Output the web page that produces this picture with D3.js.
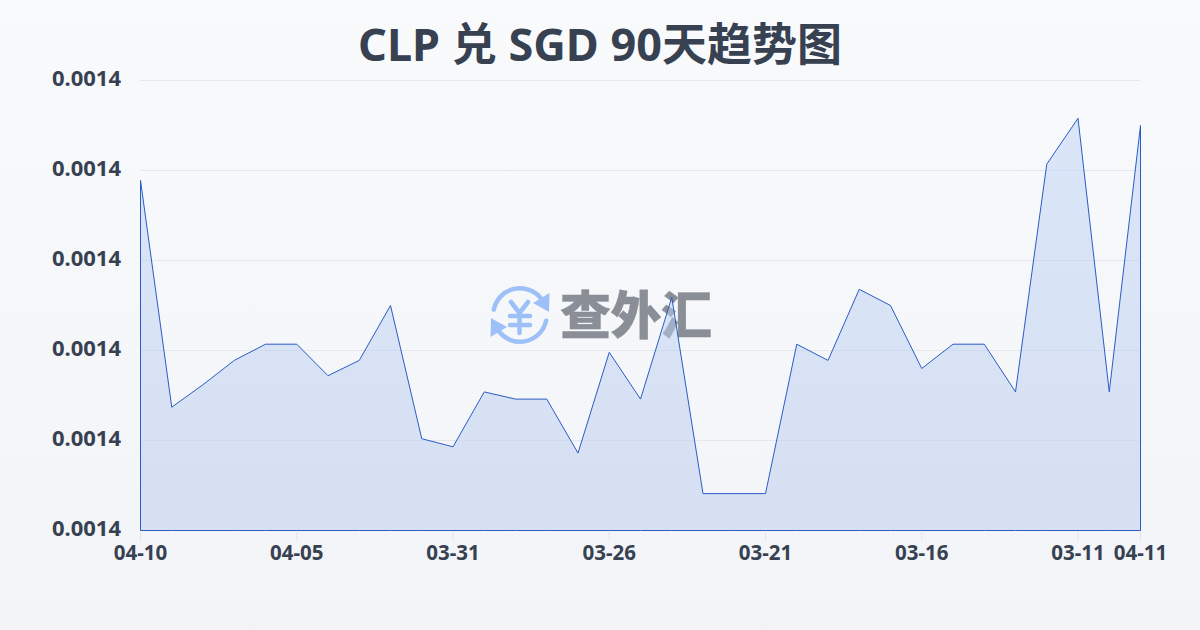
<!DOCTYPE html>
<html><head><meta charset="utf-8">
<script src="https://cdn.jsdelivr.net/npm/d3@7/dist/d3.min.js"></script>
<style>html,body{margin:0;padding:0;width:1200px;height:630px;overflow:hidden}svg{display:block}text{font-family:"Noto Sans","Noto Sans CJK SC",sans-serif}</style>
</head><body><svg id="c" width="1200" height="630"></svg>
<script>
const titleText = "CLP 兑 SGD 90天趋势图";
const dates = ["04-10","04-09","04-08","04-07","04-06","04-05","04-04","04-03","04-02","04-01","03-31","03-30","03-29","03-28","03-27","03-26","03-25","03-24","03-23","03-22","03-21","03-20","03-19","03-18","03-17","03-16","03-15","03-14","03-13","03-12","03-11","03-10","04-11"];
const rates = [0.0014189,0.0013937,0.0013962,0.0013989,0.0014007,0.0014007,0.0013972,0.0013989,0.0014050,0.0013902,0.0013893,0.0013954,0.0013946,0.0013946,0.0013886,0.0013998,0.0013946,0.0014059,0.0013841,0.0013841,0.0013841,0.0014007,0.0013989,0.0014068,0.0014050,0.0013980,0.0014007,0.0014007,0.0013954,0.0014207,0.0014258,0.0013954,0.0014250];
const shownDates = [0,5,10,15,20,25,30,32];
const yTicks = [0.00138,0.00139,0.00140,0.00141,0.00142,0.00143];
const brand = "查外汇";

const svg = d3.select("#c");
const defs = svg.append("defs");
const bg = defs.append("linearGradient").attr("id","bg").attr("x1",0).attr("y1",0).attr("x2",0).attr("y2",1);
bg.append("stop").attr("offset",0).attr("stop-color","#f8fafc");
bg.append("stop").attr("offset",1).attr("stop-color","#f2f4f7");
const ag = defs.append("linearGradient").attr("id","ag").attr("x1",0).attr("y1",0).attr("x2",0).attr("y2",1);
ag.append("stop").attr("offset",0).attr("stop-color","#bcd2f5").attr("stop-opacity",0.5);
ag.append("stop").attr("offset",1).attr("stop-color","#bccbee").attr("stop-opacity",0.5);
svg.append("rect").attr("width",1200).attr("height",630).attr("fill","url(#bg)");

const x = d3.scaleLinear().domain([0,dates.length-1]).range([140.5,1140.5]);
const y = d3.scaleLinear().domain([0.00138,0.00143]).range([530.5,80.5]);

svg.append("text").attr("x",600).attr("y",61).attr("text-anchor","middle").attr("font-size",45).attr("font-weight",700).attr("fill","#374151").text(titleText);

// grid
svg.append("g").selectAll("line").data(yTicks).join("line")
  .attr("x1",140).attr("x2",1141).attr("y1",d=>y(d)).attr("y2",d=>y(d)).attr("stroke","#e5e7eb").attr("stroke-width",1);

// watermark logo
const logo = svg.append("g");
const arc = d3.arc().innerRadius(24.5).outerRadius(29).cornerRadius(2);
logo.append("path").attr("transform","translate(520,315)").attr("fill","#9dc0f8").attr("d",arc({startAngle:-1.45,endAngle:1.0}));
logo.append("path").attr("transform","translate(520,315)").attr("fill","#9dc0f8").attr("d",arc({startAngle:1.7,endAngle:4.15}));
logo.append("path").attr("fill","#9dc0f8").attr("d","M549.5 293L549 312L533 303Z");
logo.append("path").attr("fill","#9dc0f8").attr("d","M490.5 337L491 318L507 327Z");
logo.append("path").attr("fill","none").attr("stroke","#9dc0f8").attr("stroke-width",4.5).attr("stroke-linecap","round").attr("stroke-linejoin","round")
  .attr("d","M511 302L519.5 313L528 302M510 316H530M510 325H530M519.5 313V333");
logo.append("text").attr("x",560).attr("y",334).attr("font-family","'Noto Sans CJK SC'").attr("font-size",51).attr("font-weight",900).attr("fill","#8a8e96").attr("stroke","#8a8e96").attr("stroke-width",0.4).attr("textLength",152).text(brand);

// area and line
const area = d3.area().x((d,i)=>x(i)).y0(530.5).y1(d=>y(d));
svg.append("path").attr("d",area(rates)).attr("fill","url(#ag)");
svg.append("path").attr("d",area(rates)).attr("fill","none").attr("stroke","#2a5cc5").attr("stroke-width",1);

// axes
svg.append("g").selectAll("line").data(shownDates).join("line")
  .attr("x1",d=>x(d)).attr("x2",d=>x(d)).attr("y1",531).attr("y2",541).attr("stroke","#e5e7eb");
svg.append("g").selectAll("text").data(shownDates).join("text")
  .attr("x",d=>x(d)).attr("y",560).attr("text-anchor","middle").attr("font-size",20.5).attr("font-weight",700).attr("fill","#374151").text(d=>dates[d]);
svg.append("g").selectAll("text").data(yTicks).join("text")
  .attr("x",121).attr("y",d=>y(d)+5.5).attr("text-anchor","end").attr("font-size",22).attr("font-weight",700).attr("fill","#374151").text(d=>d.toFixed(4));
</script></body></html>
